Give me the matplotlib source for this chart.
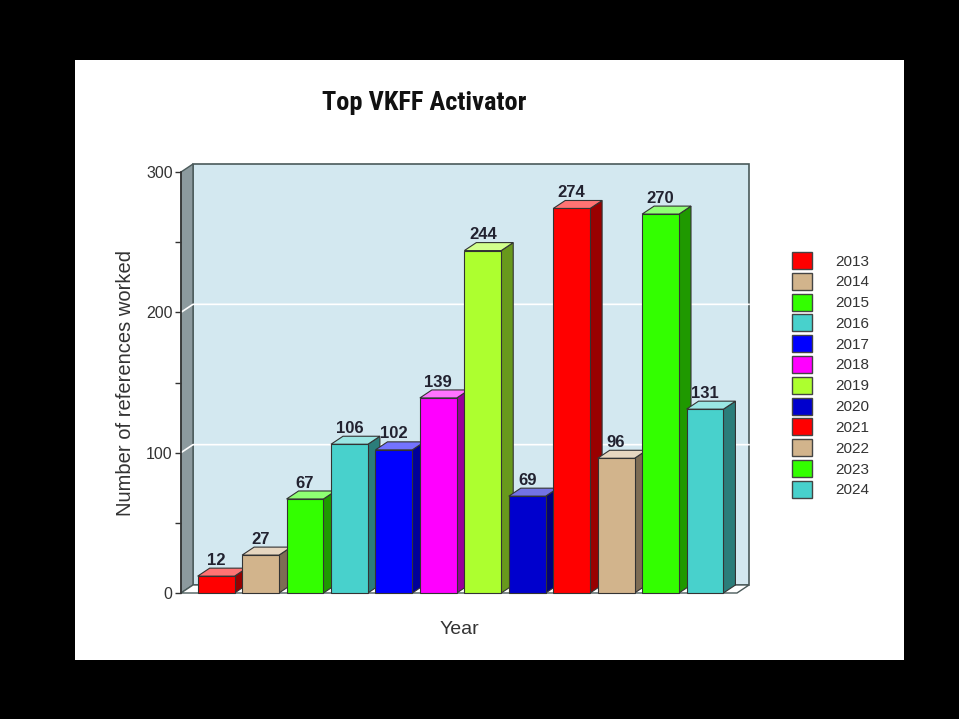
import numpy as np
import matplotlib.pyplot as plt
from matplotlib.patches import Polygon, Rectangle
from matplotlib.colors import to_rgb
from matplotlib import font_manager

plt.rcParams['font.family'] = ['Liberation Sans', 'DejaVu Sans']

years = ['2013', '2014', '2015', '2016', '2017', '2018',
         '2019', '2020', '2021', '2022', '2023', '2024']
counts = [12, 27, 67, 106, 102, 139, 244, 69, 274, 96, 270, 131]
colors = ['#ff0000', '#d2b48c', '#33ff00', '#48d1cc', '#0000ff', '#ff00ff',
          '#adff2f', '#0000cd', '#ff0000', '#d2b48c', '#33ff00', '#48d1cc']
yticks = [0, 100, 200, 300]


def shade(c, f):
    r, g, b = to_rgb(c)
    return (r * f, g * f, b * f)


def tint(c, f):
    r, g, b = to_rgb(c)
    return (r + (1 - r) * f, g + (1 - g) * f, b + (1 - b) * f)


# look for a condensed bold face for the title
names = {f.name for f in font_manager.fontManager.ttflist}
title_family = 'Liberation Sans'
for cand in ['Liberation Sans Narrow', 'DejaVu Sans Condensed', 'Roboto Condensed',
             'Open Sans Condensed']:
    if cand in names:
        title_family = cand
        break

fig = plt.figure(figsize=(9.59, 7.19), dpi=100)
fig.patch.set_facecolor('black')

# white panel
panel = fig.add_axes([75 / 959, 1 - 660 / 719, 829 / 959, 600 / 719])
panel.set_facecolor('white')
panel.set_xticks([])
panel.set_yticks([])
for s in panel.spines.values():
    s.set_visible(False)

ax = fig.add_axes([181 / 959, 1 - 593 / 719, 556 / 959, 421 / 719])
ax.patch.set_visible(False)
xmin, xmax = -0.79, 11.72
ax.set_xlim(xmin, xmax)
ax.set_ylim(0, 300)

dx, dy = 0.27, 5.7   # depth offset in data units
w = 0.83

# back wall
ax.add_patch(Rectangle((xmin + dx, dy), xmax - xmin, 300, facecolor='#d3e8f0',
                       edgecolor='#4a5a5a', lw=1.2, clip_on=False, zorder=0))
# left wall
ax.add_patch(Polygon([(xmin, 0), (xmin + dx, dy), (xmin + dx, 300 + dy), (xmin, 300)],
                     closed=True, facecolor='#8c9a9e', edgecolor='#4a5a5a', lw=1,
                     clip_on=False, zorder=0))
# floor
ax.add_patch(Polygon([(xmin, 0), (xmax, 0), (xmax + dx, dy), (xmin + dx, dy)],
                     closed=True, facecolor='white', edgecolor='#4a5a5a', lw=1,
                     clip_on=False, zorder=0))
# grid lines
for t in [100, 200]:
    ax.plot([xmin, xmin + dx, xmax + dx], [t, t + dy, t + dy], color='white',
            lw=1.2, clip_on=False, zorder=0.5)

for i, (v, c) in enumerate(zip(counts, colors)):
    x0 = i - w / 2
    x1 = i + w / 2
    ax.add_patch(Polygon([(x1, 0), (x1 + dx, dy), (x1 + dx, v + dy), (x1, v)],
                         closed=True, facecolor=shade(c, 0.6), edgecolor='#333333',
                         lw=0.8, clip_on=False, zorder=2 + i))
    ax.add_patch(Polygon([(x0, v), (x1, v), (x1 + dx, v + dy), (x0 + dx, v + dy)],
                         closed=True, facecolor=tint(c, 0.45), edgecolor='#333333',
                         lw=0.8, clip_on=False, zorder=2 + i))
    ax.add_patch(Rectangle((x0, 0), w, v, facecolor=c, edgecolor='#333333',
                           lw=0.8, clip_on=False, zorder=2 + i))
    ax.text(i, v + dy + 0.3, str(v), ha='center', va='bottom', fontsize=12,
            fontweight='bold', color='#222230', zorder=20)

ax.set_yticks(yticks)
ax.set_yticks([50, 150, 250], minor=True)
ax.set_xticks([])
ax.tick_params(axis='y', which='both', direction='out', length=4, width=1,
               color='#333333', labelsize=11.5, labelcolor='#333333', pad=2)
for s in ['top', 'right', 'bottom']:
    ax.spines[s].set_visible(False)
ax.spines['left'].set_color('#333333')
ax.spines['left'].set_linewidth(1.2)

ax.set_ylabel('Number of references worked', fontsize=14.5, color='#333333', labelpad=8)
ax.set_xlabel('Year', fontsize=14, color='#333333', labelpad=20)

fig.text(424 / 959, 1 - 103 / 719, 'Top VKFF Activator', ha='center', va='center',
         fontsize=19, fontweight='heavy', color='#111111',
         family=[title_family, 'DejaVu Sans'], stretch='condensed')

# legend
for j, (yr, c) in enumerate(zip(years, colors)):
    ytop = 252 + j * 20.8
    fig.patches.append(Rectangle((792 / 959, 1 - (ytop + 17) / 719), 20 / 959, 17 / 719,
                                 transform=fig.transFigure, facecolor=c,
                                 edgecolor='#444444', lw=1))
    fig.text(835 / 959, 1 - (ytop + 9.5) / 719, yr, ha='left', va='center',
             fontsize=11, color='#333333')

fig.savefig('out.png', dpi=100, facecolor='black')
